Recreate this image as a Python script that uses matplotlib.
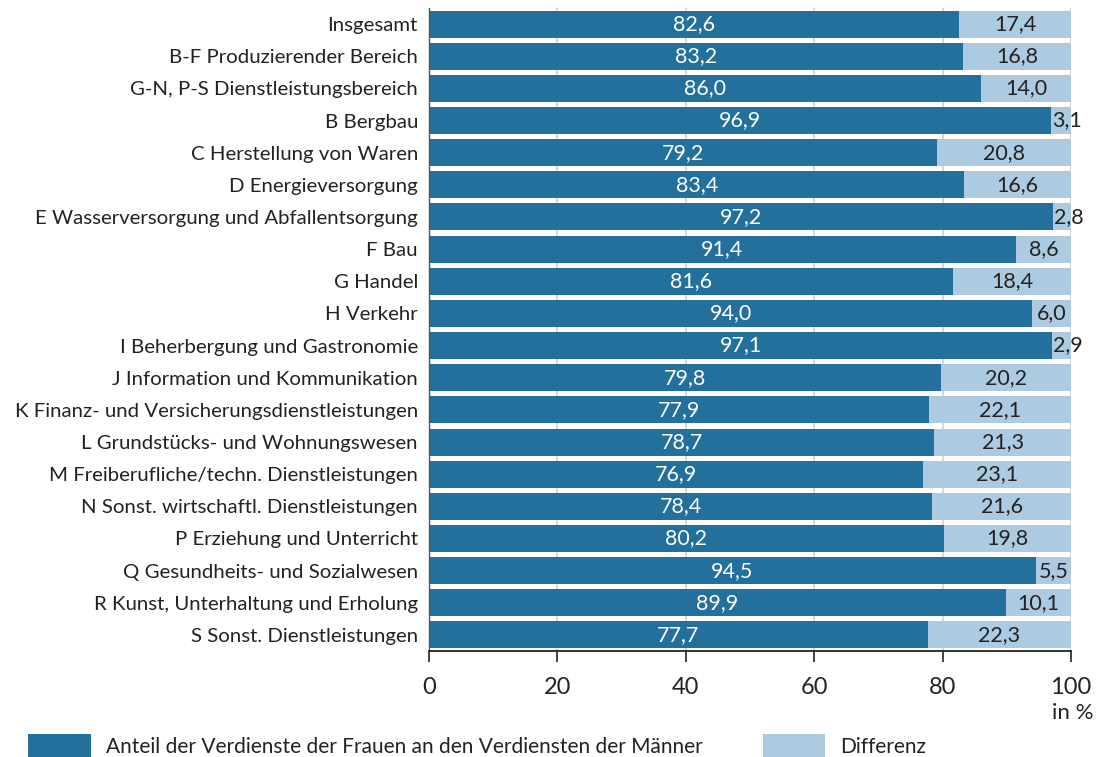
import matplotlib
matplotlib.use("Agg")
import matplotlib.pyplot as plt
from matplotlib.patches import Patch

categories = [
    "Insgesamt",
    "B-F Produzierender Bereich",
    "G-N, P-S Dienstleistungsbereich",
    "B Bergbau",
    "C Herstellung von Waren",
    "D Energieversorgung",
    "E Wasserversorgung und Abfallentsorgung",
    "F Bau",
    "G Handel",
    "H Verkehr",
    "I Beherbergung und Gastronomie",
    "J Information und Kommunikation",
    "K Finanz- und Versicherungsdienstleistungen",
    "L Grundstücks- und Wohnungswesen",
    "M Freiberufliche/techn. Dienstleistungen",
    "N Sonst. wirtschaftl. Dienstleistungen",
    "P Erziehung und Unterricht",
    "Q Gesundheits- und Sozialwesen",
    "R Kunst, Unterhaltung und Erholung",
    "S Sonst. Dienstleistungen",
]
anteil = [82.6, 83.2, 86.0, 96.9, 79.2, 83.4, 97.2, 91.4, 81.6, 94.0,
          97.1, 79.8, 77.9, 78.7, 76.9, 78.4, 80.2, 94.5, 89.9, 77.7]
differenz = [17.4, 16.8, 14.0, 3.1, 20.8, 16.6, 2.8, 8.6, 18.4, 6.0,
             2.9, 20.2, 22.1, 21.3, 23.1, 21.6, 19.8, 5.5, 10.1, 22.3]
xticks = [0, 20, 40, 60, 80, 100]
legend_labels = ["Anteil der Verdienste der Frauen an den Verdiensten der Männer", "Differenz"]

dark = "#23709c"
light = "#accbe1"
txt = "#222222"

plt.rcParams['font.family'] = ['Lato', 'DejaVu Sans']

fig = plt.figure(figsize=(10.96, 7.57), dpi=100)
ax = fig.add_axes([429/1096, 1-651/757, (1071-429)/1096, (651-8)/757])

y = list(range(len(categories)))
ax.barh(y, anteil, height=0.84, color=dark, zorder=2)
ax.barh(y, differenz, left=anteil, height=0.84, color=light, zorder=2)

for i, (a, d) in enumerate(zip(anteil, differenz)):
    ax.text(a/2, i, f"{a:.1f}".replace(".", ","), ha="center", va="center",
            color="white", fontsize=15.5, zorder=3)
    if d < 4:
        ax.text(a + 0.1, i, f"{d:.1f}".replace(".", ","), ha="left", va="center",
                color=txt, fontsize=15.5, zorder=3)
    else:
        ax.text(a + d/2, i, f"{d:.1f}".replace(".", ","), ha="center", va="center",
                color=txt, fontsize=15.5, zorder=3)

ax.set_xlim(0, 100)
ax.set_ylim(len(categories)-0.5, -0.5)
ax.set_yticks(y)
ax.set_yticklabels(categories, fontsize=14.7, color=txt)
ax.tick_params(axis="y", length=0, pad=8)
ax.set_xticks(xticks)
ax.set_xticklabels([str(v) for v in xticks], fontsize=17, color=txt)
ax.tick_params(axis="x", length=8, width=1.2, color="#222222", pad=11, direction="out")

ax.xaxis.grid(True, color="#d0d0d0", linewidth=1.2, zorder=0)
ax.set_axisbelow(True)
for s in ["top", "right"]:
    ax.spines[s].set_visible(False)
ax.spines["bottom"].set_color("#222222")
ax.spines["bottom"].set_linewidth(1.3)
ax.spines["left"].set_color("#555555")
ax.spines["left"].set_linewidth(1.0)

fig.text(1094/1096, 1-713/757, "in %", ha="right", va="center", fontsize=16, color=txt)

handles = [Patch(facecolor=dark), Patch(facecolor=light)]
fig.legend(handles, legend_labels, loc="lower left", bbox_to_anchor=(28/1096, 0.0),
           ncol=2, frameon=False, fontsize=15, handlelength=3.0, handleheight=1.3,
           columnspacing=2.9, handletextpad=0.72, labelcolor=txt,
           borderpad=0, borderaxespad=0)

fig.savefig("out.png", dpi=100)
